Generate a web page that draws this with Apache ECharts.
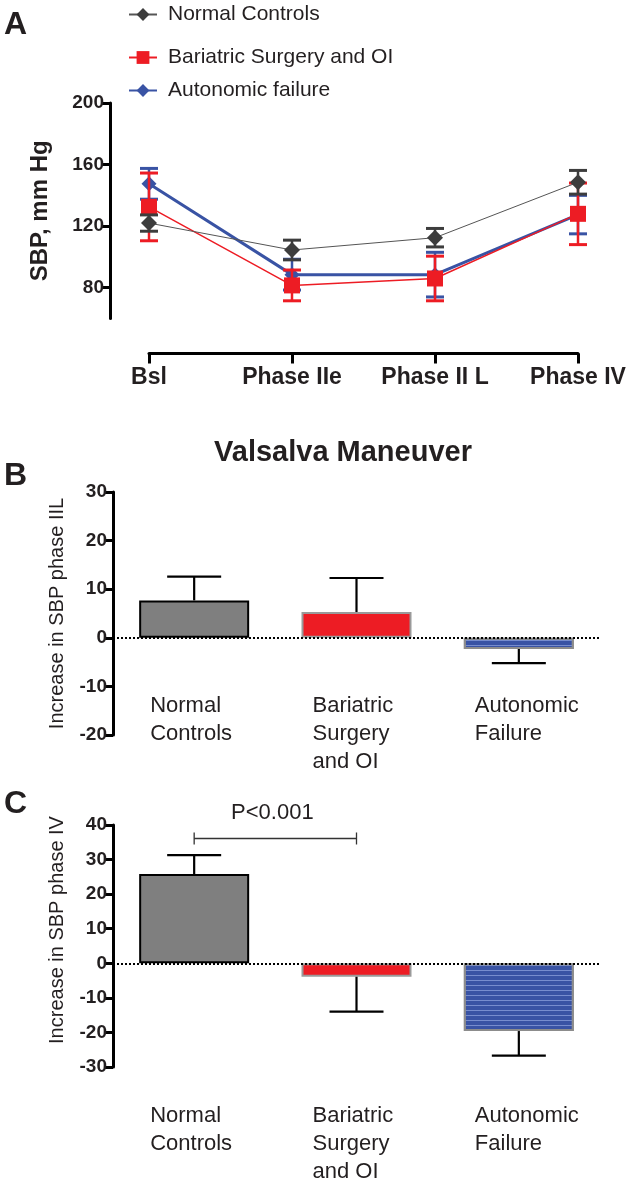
<!DOCTYPE html>
<html><head><meta charset="utf-8">
<script src="https://cdn.jsdelivr.net/npm/echarts@6/dist/echarts.min.js"></script>
<style>html,body{margin:0;padding:0;background:#fff}#c{width:630px;height:1183px}</style>
</head><body><div id="c"></div>
<script>
// ---- Panel A data ----
const phases = ['Bsl', 'Phase IIe', 'Phase II L', 'Phase IV'];
const groupNames = ['Normal Controls', 'Bariatric Surgery and OI', 'Autonomic failure'];
const sbpNormal = [122, 104.5, 112.5, 148.5];
const sbpNormalErr = [5.3, 6.4, 6, 7.7];
const sbpBariatric = [132.5, 81.5, 86, 128];
const sbpBariatricErr = [22, 10, 14.5, 20];
const sbpAutonomic = [147.5, 88.5, 88.5, 127.5];
const sbpAutonomicErr = [10, 10, 14.5, 12.5];
const sbpTicks = [80, 120, 160, 200];

// ---- Panels B and C data ----
const barCategories = ['Normal\nControls', 'Bariatric\nSurgery\nand OI', 'Autonomic\nFailure'];
const phaseIILIncrease = [7.7, 5.3, -2.3];
const phaseIILErr = [4.9, 7.0, 2.9];
const phaseIVIncrease = [25.8, -3.9, -19.6];
const phaseIVErr = [5.5, 10.1, 7.1];
const pBracketFrom = 0, pBracketTo = 1, pBracketY = 36.1, pText = 'P<0.001';

const FONT = "'Liberation Sans', Arial, Helvetica, sans-serif";
const TXT = '#231f20';
const GRAY = '#3d3d3d', RED = '#ed1c24', BLUE = '#3953a4';

const chart = echarts.init(document.getElementById('c'), null, {renderer: 'canvas'});

function errRender(color) {
  return function (params, api) {
    const x = api.value(0), v = api.value(1), e = api.value(2);
    const t = api.coord([x, v + e]), b = api.coord([x, v - e]);
    const hw = 9;
    return {type: 'group', children: [
      {type: 'line', shape: {x1: t[0], y1: t[1], x2: b[0], y2: b[1]}, style: {stroke: color, lineWidth: 2.5}},
      {type: 'line', shape: {x1: t[0] - hw, y1: t[1], x2: t[0] + hw, y2: t[1]}, style: {stroke: color, lineWidth: 3}},
      {type: 'line', shape: {x1: b[0] - hw, y1: b[1], x2: b[0] + hw, y2: b[1]}, style: {stroke: color, lineWidth: 3}}
    ]};
  };
}
function barErrRender(params, api) {
  const x = api.value(0), v = api.value(1), e = api.value(2);
  const s = v >= 0 ? 1 : -1;
  const a = api.coord([x, v]), b = api.coord([x, v + s * e]);
  const hw = 27;
  return {type: 'group', children: [
    {type: 'line', shape: {x1: a[0], y1: a[1], x2: b[0], y2: b[1]}, style: {stroke: '#000', lineWidth: 2.2}},
    {type: 'line', shape: {x1: b[0] - hw, y1: b[1], x2: b[0] + hw, y2: b[1]}, style: {stroke: '#000', lineWidth: 2.2}}
  ]};
}
const zip3 = (vals, errs) => vals.map((v, i) => [i, v, errs[i]]);

const stripeDecal = {symbol: 'rect', symbolSize: 1, dashArrayX: [1, 0], dashArrayY: [1, 4], rotation: 0, color: 'rgba(140,160,220,0.75)'};
const barStyles = [
  {color: '#7f7f7f', borderColor: '#000', borderWidth: 2},
  {color: RED, borderColor: '#9a9a9a', borderWidth: 2},
  {color: BLUE, borderColor: '#8c8c8c', borderWidth: 2, decal: stripeDecal}
];
const barData = vals => vals.map((v, i) => ({value: v, itemStyle: barStyles[i]}));
const zeroLine = {silent: true, symbol: 'none', label: {show: false},
  lineStyle: {color: '#000', width: 2, type: 'dotted'}, data: [{yAxis: 0}]};

const catLabel = (margin) => ({
  interval: 0, margin: margin, align: 'center',
  formatter: v => v.split('\n').map(s => '{t|' + s + '}').join('\n'),
  rich: {t: {width: 88, align: 'left', fontSize: 22, lineHeight: 28, color: TXT, fontFamily: FONT}}
});
const valAxisCommon = {
  type: 'value',
  axisLine: {show: true, lineStyle: {color: '#000', width: 3}},
  axisTick: {show: true, length: 8, lineStyle: {color: '#000', width: 3}},
  axisLabel: {fontSize: 19, fontWeight: 'bold', color: TXT, fontFamily: FONT, margin: 6},
  splitLine: {show: false},
  nameLocation: 'middle',
  nameTextStyle: {fontSize: 20, color: TXT, fontFamily: FONT}
};

const option = {
  backgroundColor: '#fff',
  animation: false,
  textStyle: {fontFamily: FONT},
  legend: groupNames.map((n, i) => ({
    data: [n], left: 128, top: [4, 47, 80][i], padding: 0, orient: 'vertical',
    itemWidth: 28, itemHeight: 16, selectedMode: false,
    textStyle: {fontSize: 21, color: TXT, fontFamily: FONT, padding: [0, 0, 0, 6]}
  })),
  graphic: [
    {type: 'text', left: 4, top: 9, style: {text: 'A', fontSize: 32, fontWeight: 'bold', fill: TXT, fontFamily: FONT}},
    {type: 'text', left: 4, top: 460, style: {text: 'B', fontSize: 32, fontWeight: 'bold', fill: TXT, fontFamily: FONT}},
    {type: 'text', left: 4, top: 788, style: {text: 'C', fontSize: 32, fontWeight: 'bold', fill: TXT, fontFamily: FONT}},
    {type: 'text', x: 343, y: 453, style: {text: 'Valsalva Maneuver', fontSize: 29, fontWeight: 'bold', fill: TXT, fontFamily: FONT, align: 'center', verticalAlign: 'middle'}}
  ],
  grid: [
    {left: 149, right: 52, top: 103, height: 215.5, outerBoundsMode: 'none', containLabel: false},
    {left: 113, right: 30, top: 492, height: 243, outerBoundsMode: 'none', containLabel: false},
    {left: 113, right: 30, top: 825, height: 242, outerBoundsMode: 'none', containLabel: false}
  ],
  xAxis: [
    {gridIndex: 0, type: 'category', data: phases, boundaryGap: false, offset: 35,
      axisLine: {onZero: false, lineStyle: {color: '#000', width: 3}},
      axisTick: {length: 10, lineStyle: {color: '#000', width: 3}},
      axisLabel: {fontSize: 23, fontWeight: 'bold', color: TXT, fontFamily: FONT, margin: 13}},
    {gridIndex: 1, type: 'category', data: barCategories, position: 'bottom',
      axisLine: {show: false, onZero: false},
      axisTick: {show: false}, axisLabel: catLabel(-43)},
    {gridIndex: 2, type: 'category', data: barCategories, position: 'bottom',
      axisLine: {show: false, onZero: false},
      axisTick: {show: false}, axisLabel: catLabel(35)}
  ],
  yAxis: [
    Object.assign({}, valAxisCommon, {gridIndex: 0, min: 60, max: 200, offset: 39,
      axisTick: Object.assign({}, valAxisCommon.axisTick, {customValues: sbpTicks}),
      axisLabel: Object.assign({}, valAxisCommon.axisLabel, {customValues: sbpTicks}),
      name: 'SBP, mm Hg', nameGap: 58,
      nameTextStyle: {fontSize: 24, fontWeight: 'bold', color: TXT, fontFamily: FONT}}),
    Object.assign({}, valAxisCommon, {gridIndex: 1, min: -20, max: 30, interval: 10,
      name: 'Increase in SBP phase IIL', nameGap: 46}),
    Object.assign({}, valAxisCommon, {gridIndex: 2, min: -30, max: 40, interval: 10,
      name: 'Increase in SBP phase IV', nameGap: 46,
      nameTextStyle: {fontSize: 20, color: TXT, fontFamily: FONT, padding: [0, 0, 0, 32]}})
  ],
  series: [
    {type: 'custom', name: 'errA', xAxisIndex: 0, yAxisIndex: 0, z: 2, renderItem: errRender(BLUE), data: zip3(sbpAutonomic, sbpAutonomicErr)},
    {type: 'line', name: groupNames[2], xAxisIndex: 0, yAxisIndex: 0, z: 3, data: sbpAutonomic,
      symbol: 'diamond', symbolSize: 15, itemStyle: {color: BLUE}, lineStyle: {color: BLUE, width: 3}},
    {type: 'custom', name: 'errR', xAxisIndex: 0, yAxisIndex: 0, z: 4, renderItem: errRender(RED), data: zip3(sbpBariatric, sbpBariatricErr)},
    {type: 'line', name: groupNames[1], xAxisIndex: 0, yAxisIndex: 0, z: 5, data: sbpBariatric,
      symbol: 'rect', symbolSize: 16, itemStyle: {color: RED}, lineStyle: {color: RED, width: 1.5}},
    {type: 'custom', name: 'errG', xAxisIndex: 0, yAxisIndex: 0, z: 6, renderItem: errRender(GRAY), data: zip3(sbpNormal, sbpNormalErr)},
    {type: 'line', name: groupNames[0], xAxisIndex: 0, yAxisIndex: 0, z: 7, data: sbpNormal,
      symbol: 'diamond', symbolSize: 16, itemStyle: {color: GRAY}, lineStyle: {color: '#555', width: 1}},

    {type: 'bar', name: 'barB', xAxisIndex: 1, yAxisIndex: 1, barWidth: 110, data: barData(phaseIILIncrease), z: 2, markLine: zeroLine},
    {type: 'custom', name: 'errB', xAxisIndex: 1, yAxisIndex: 1, z: 3, renderItem: barErrRender, data: zip3(phaseIILIncrease, phaseIILErr)},
    {type: 'bar', name: 'barC', xAxisIndex: 2, yAxisIndex: 2, barWidth: 110, data: barData(phaseIVIncrease), z: 2, markLine: zeroLine},
    {type: 'custom', name: 'errC', xAxisIndex: 2, yAxisIndex: 2, z: 3, renderItem: barErrRender, data: zip3(phaseIVIncrease, phaseIVErr)},
    {type: 'custom', name: 'pBracket', xAxisIndex: 2, yAxisIndex: 2, z: 4,
      data: [[pBracketFrom, pBracketTo, pBracketY]],
      renderItem: function (params, api) {
        const a = api.coord([api.value(0), api.value(2)]), b = api.coord([api.value(1), api.value(2)]);
        return {type: 'group', children: [
          {type: 'line', shape: {x1: a[0], y1: a[1], x2: b[0], y2: b[1]}, style: {stroke: '#333', lineWidth: 1.3}},
          {type: 'line', shape: {x1: a[0], y1: a[1] - 6, x2: a[0], y2: a[1] + 6}, style: {stroke: '#333', lineWidth: 1.3}},
          {type: 'line', shape: {x1: b[0], y1: b[1] - 6, x2: b[0], y2: b[1] + 6}, style: {stroke: '#333', lineWidth: 1.3}},
          {type: 'text', x: (a[0] + b[0]) / 2 - 3, y: a[1] - 26, style: {text: pText, fontSize: 22, fill: TXT, fontFamily: FONT, align: 'center', verticalAlign: 'middle'}}
        ]};
      }}
  ]
};
chart.setOption(option);
</script></body></html>
